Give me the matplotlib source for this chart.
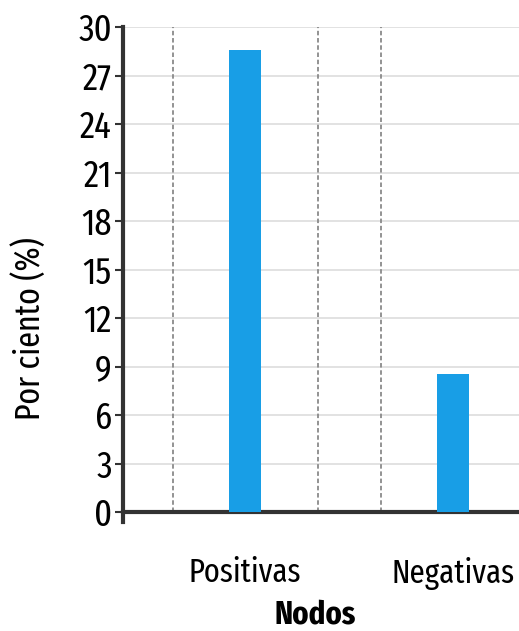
import matplotlib
matplotlib.use("Agg")
import matplotlib.pyplot as plt

categorias = ["Positivas", "Negativas"]
valores = [28.6, 8.55]
separadores = [-0.346, 0.351, 0.654]
yticks = list(range(0, 31, 3))

azul = "#189ee6"
oscuro = "#333333"

plt.rcParams['font.family'] = ['Fira Sans Extra Condensed', 'Fira Sans Condensed', 'DejaVu Sans']

fig = plt.figure(figsize=(5.19, 6.31), dpi=100)
ax = fig.add_axes([0.237, 0.173, 0.763, 0.784])

ax.bar(range(len(categorias)), valores, width=0.15, color=azul, zorder=3)
for x in separadores:
    ax.plot([x, x], [0, 30], ls=(0, (2.5, 1.5)), color="#8a8a8a", lw=1.3, zorder=2)

ax.set_xlim(-0.587, 1.317)
ax.set_ylim(-0.6, 30)
ax.set_yticks(yticks)
ax.set_xticks(range(len(categorias)))
ax.set_xticklabels(categorias)
ax.tick_params(axis="y", labelsize=27, length=6, width=1.5, color=oscuro, pad=2)
ax.tick_params(axis="x", labelsize=24, length=0, pad=32)
ax.yaxis.grid(True, color="#dddddd", lw=1.2, zorder=0)
ax.set_axisbelow(True)

for s in ["top", "right"]:
    ax.spines[s].set_visible(False)
ax.spines["bottom"].set_position(("data", 0))
ax.spines["left"].set_color(oscuro)
ax.spines["bottom"].set_color(oscuro)
ax.spines["left"].set_linewidth(3)
ax.spines["bottom"].set_linewidth(3)

ax.set_ylabel("Por ciento (%)", fontsize=25)
ax.yaxis.set_label_coords(-0.193, 0.39)
ax.set_xlabel("Nodos", fontsize=24, fontweight="bold", labelpad=7)
ax.xaxis.label.set_x(0.485)

plt.savefig("out.png", dpi=100)
